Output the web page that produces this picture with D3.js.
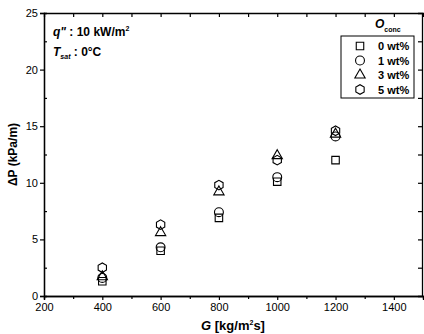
<!DOCTYPE html>
<meta charset="utf-8">
<style>
body{margin:0;background:#fff;}
svg text{font-family:"Liberation Sans",Arial,sans-serif;fill:#000;}
.tick text{font-size:11px;}
</style>
<svg id="chart" width="424" height="334"></svg>
<script src="https://d3js.org/d3.v7.min.js"></script>
<script>
// mass flux G and pressure drop per oil concentration
const G = [400, 600, 800, 1000, 1200]
const dp0 = [1.3, 4.0, 6.9, 10.1, 12.0]
const dp1 = [1.6, 4.3, 7.4, 10.5, 14.1]
const dp3 = [1.7, 5.6, 9.2, 12.4, 14.3]
const dp5 = [2.5, 6.3, 9.8, 12.0, 14.6]
const seriesNames = ['0 wt%', '1 wt%', '3 wt%', '5 wt%']
const xTicks = [200, 400, 600, 800, 1000, 1200, 1400]
const yTicks = [0, 5, 10, 15, 20, 25]

const svg = d3.select('#chart')
const m = {left: 44, right: 1, top: 13, bottom: 38}
const W = 424, H = 334
const x = d3.scaleLinear().domain([200, 1500]).range([m.left, W - m.right])
const y = d3.scaleLinear().domain([0, 25]).range([H - m.bottom, m.top])

const syms = [d3.symbolSquare, d3.symbolCircle, d3.symbolTriangle, 'hex']
function hexPath(r) {
  let p = d3.path()
  for (let i = 0; i < 6; i++) {
    let a = Math.PI / 6 + i * Math.PI / 3
    let px = r * Math.cos(a), py = r * Math.sin(a)
    i ? p.lineTo(px, py) : p.moveTo(px, py)
  }
  p.closePath()
  return p.toString()
}
function symPath(s) {
  if (s === 'hex') return hexPath(4.8)
  if (s === d3.symbolSquare) return d3.symbol(s, 56)()
  if (s === d3.symbolTriangle) return d3.symbol(s, 46)()
  return d3.symbol(s, 62)()
}

// axes
svg.append('g').attr('transform', `translate(0,${y(0)})`)
  .call(d3.axisBottom(x).tickValues(xTicks).tickSize(4).tickPadding(3).tickFormat(d3.format('d')))
svg.append('g').attr('transform', `translate(0,${y(0)})`)
  .call(d3.axisBottom(x).tickValues(d3.range(300, 1500, 200)).tickSize(3).tickFormat(''))
svg.append('g').attr('transform', `translate(${x(200)},0)`)
  .call(d3.axisLeft(y).tickValues(yTicks).tickSize(4).tickPadding(2))
svg.append('g').attr('transform', `translate(${x(200)},0)`)
  .call(d3.axisRight(y).tickValues(d3.range(2.5, 25, 5)).tickSize(3).tickFormat(''))
svg.append('g').attr('transform', `translate(0,${y(25)})`)
  .call(d3.axisBottom(x).tickValues(d3.range(300, 1500, 100)).tickSize(4).tickFormat(''))
svg.append('g').attr('transform', `translate(${x(1500) - 1},0)`)
  .call(d3.axisLeft(y).tickValues(d3.range(2.5, 25, 2.5)).tickSize(4).tickFormat(''))
svg.selectAll('.domain').attr('stroke-width', 1.3)
svg.selectAll('.tick line').attr('stroke-width', 1.2)

// data markers
const all = [dp0, dp1, dp3, dp5]
all.forEach((vals, si) => {
  svg.append('g').selectAll('path').data(G).join('path')
    .attr('d', symPath(syms[si]))
    .attr('transform', (g, i) => `translate(${x(g)},${y(vals[i])})`)
    .attr('fill', 'none').attr('stroke', '#000').attr('stroke-width', 1.1)
})

// legend
const lg = svg.append('g')
lg.append('rect').attr('x', 341).attr('y', 36).attr('width', 73).attr('height', 62)
  .attr('fill', '#fff').attr('stroke', '#000').attr('stroke-width', 1)
const lt = lg.append('text').attr('x', 375).attr('y', 28).style('font-size', '12px').style('font-weight', 'bold')
lt.append('tspan').text('O').style('font-style', 'italic')
lt.append('tspan').text('conc').attr('dy', 4).style('font-size', '7px')
seriesNames.forEach((nm, i) => {
  let yy = 46 + i * 14.5
  lg.append('path').attr('d', symPath(syms[i])).attr('transform', `translate(360,${yy})`)
    .attr('fill', 'none').attr('stroke', '#000').attr('stroke-width', 1.1)
  lg.append('text').attr('x', 378).attr('y', yy + 4).text(nm)
    .style('font-size', '11px').style('font-weight', 'bold')
})

// annotations
const a1 = svg.append('text').attr('x', 53).attr('y', 36).style('font-size', '12px').style('font-weight', 'bold')
a1.append('tspan').text('q"').style('font-style', 'italic')
a1.append('tspan').text(' : 10 kW/m')
a1.append('tspan').text('2').attr('dy', -5).style('font-size', '7px')
const a2 = svg.append('text').attr('x', 53).attr('y', 56).style('font-size', '12px').style('font-weight', 'bold')
a2.append('tspan').text('T').style('font-style', 'italic')
a2.append('tspan').text('sat').attr('dy', 3).style('font-size', '7px').style('font-style', 'italic')
a2.append('tspan').text(' : 0°C').attr('dy', -3)

// axis titles
svg.append('text').attr('transform', `translate(17,${(y(0) + y(25)) / 2}) rotate(-90)`)
  .attr('text-anchor', 'middle').style('font-size', '12px').style('font-weight', 'bold')
  .text('ΔP (kPa/m)')
const xl = svg.append('text').attr('x', 233).attr('y', 330).attr('text-anchor', 'middle')
  .style('font-size', '13px').style('font-weight', 'bold')
xl.append('tspan').text('G').style('font-style', 'italic')
xl.append('tspan').text(' [kg/m')
xl.append('tspan').text('2').attr('dy', -5).style('font-size', '7px')
xl.append('tspan').text('s]').attr('dy', 5)
</script>
